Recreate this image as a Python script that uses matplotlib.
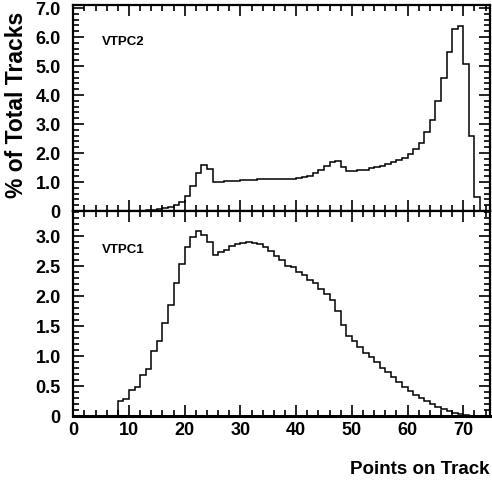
import numpy as np
import matplotlib.pyplot as plt
from matplotlib.ticker import MultipleLocator, FuncFormatter

plt.rcParams['font.family'] = ['Liberation Sans', 'DejaVu Sans']
plt.rcParams['font.weight'] = 'bold'

# VTPC2 histogram: bins of width 1 starting at 13
vtpc2_start = 13
vtpc2 = [0.03, 0.04, 0.06, 0.09, 0.13, 0.19, 0.30, 0.52, 0.85, 1.32,
         1.60, 1.46, 0.99, 1.00, 1.02, 1.03, 1.05, 1.06, 1.07, 1.08,
         1.09, 1.10, 1.10, 1.10, 1.10, 1.10, 1.12, 1.14, 1.17, 1.22,
         1.31, 1.42, 1.54, 1.69, 1.71, 1.50, 1.37, 1.38, 1.40, 1.42,
         1.47, 1.51, 1.56, 1.63, 1.68, 1.76, 1.83, 1.95, 2.14, 2.36,
         2.71, 3.14, 3.78, 4.57, 5.49, 6.28, 6.36, 5.07, 2.60, 0.47]

# VTPC1 histogram: bins of width 1 starting at 8
vtpc1_start = 8
vtpc1 = [0.25, 0.275, 0.43, 0.47, 0.68, 0.775, 1.07, 1.25, 1.54, 1.85,
         2.21, 2.52, 2.81, 2.97, 3.07, 3.01, 2.89, 2.68, 2.72, 2.76,
         2.83, 2.86, 2.875, 2.90, 2.88, 2.86, 2.81, 2.74, 2.66, 2.59,
         2.50, 2.48, 2.40, 2.35, 2.26, 2.21, 2.11, 2.03, 1.93, 1.75,
         1.51, 1.33, 1.24, 1.15, 1.05, 0.97, 0.89, 0.80, 0.725, 0.65,
         0.56, 0.47, 0.41, 0.35, 0.30, 0.25, 0.19, 0.15, 0.11, 0.08,
         0.05, 0.025, 0.01]

W, H = 492, 485
fig = plt.figure(figsize=(W / 100, H / 100), dpi=100)
left, right = 73.3, 490
ax_top = fig.add_axes([left / W, 1 - 212 / H, (right - left) / W, (212 - 6) / H])
ax_bot = fig.add_axes([left / W, 1 - 416.5 / H, (right - left) / W, (416.5 - 212) / H])


def fmt(v, pos):
    return '0' if abs(v) < 1e-9 else f'{v:.1f}'


def style(ax, ymax, ymajor, yminor):
    ax.set_xlim(0, 74.8)
    ax.set_ylim(0, ymax)
    ax.xaxis.set_major_locator(MultipleLocator(10))
    ax.xaxis.set_minor_locator(MultipleLocator(2))
    ax.yaxis.set_major_locator(MultipleLocator(ymajor))
    ax.yaxis.set_minor_locator(MultipleLocator(yminor))
    ax.yaxis.set_major_formatter(FuncFormatter(fmt))
    ax.tick_params(which='both', direction='in', top=True, right=True,
                   width=1.2, labelsize=13)
    ax.tick_params(which='major', length=8)
    ax.tick_params(which='minor', length=4)
    ax.tick_params(axis='y', pad=9)
    ax.tick_params(axis='x', pad=4)
    for s in ax.spines.values():
        s.set_linewidth(1.6)


v2 = np.array(vtpc2)
e2 = vtpc2_start + np.arange(len(v2) + 1)
ax_top.stairs(v2, e2, color='black', lw=1.1)
style(ax_top, 7.1, 1.0, 0.2)
ax_top.tick_params(axis='x', labelbottom=False)
ax_top.text(5.2, 5.86, 'VTPC2', fontsize=9.5, fontweight='bold', va='center')

v1 = np.array(vtpc1)
e1 = vtpc1_start + np.arange(len(v1) + 1)
ax_bot.stairs(v1, e1, color='black', lw=1.1)
style(ax_bot, 3.41, 0.5, 0.1)
ax_bot.spines['bottom'].set_linewidth(2.2)
ax_bot.text(5.2, 2.78, 'VTPC1', fontsize=9.5, fontweight='bold', va='center')

fig.text(16.5 / W, 1 - 105 / H, '% of Total Tracks', rotation=90,
         ha='center', va='center', fontsize=16.5, fontweight='bold')
fig.text(490 / W, 1 - 470 / H, 'Points on Track', ha='right', va='center',
         fontsize=13.5, fontweight='bold')

fig.savefig('out.png', dpi=100)
